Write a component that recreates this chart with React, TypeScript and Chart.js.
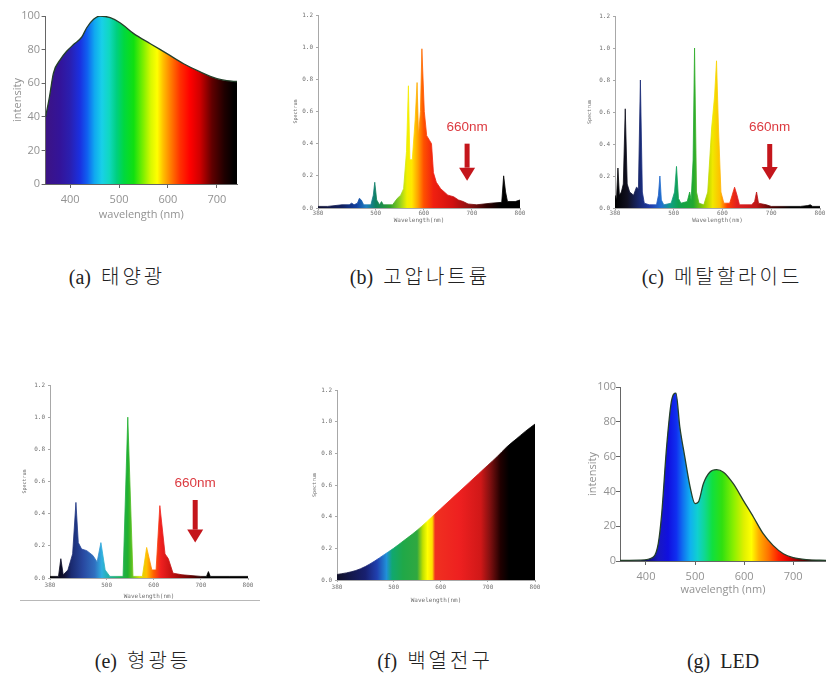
import React, { useEffect, useRef } from "react";
import { Chart, registerables } from "chart.js";
Chart.register(...registerables);

// ---------------- data ----------------
// (a) 태양광 (sunlight)
const SUN_WL = [350, 358, 366, 380, 393, 407, 424, 434, 448, 461, 482, 502, 530, 564, 598, 632, 666, 700, 720, 741];
const SUN_I = [40, 52, 66, 74, 79, 83, 87.5, 93, 98, 100, 99, 96, 89.5, 83.5, 77.6, 71.6, 66.7, 62.7, 61.5, 61];

// (b) 고압나트륨 (high-pressure sodium)
const HPS_WL = [380, 400, 430, 445, 450, 455, 462, 466, 470, 475, 490, 495, 498, 502, 508, 512, 516, 535, 545, 552, 558, 564, 568, 571, 576, 582, 586, 589, 593, 596, 601, 606, 612, 616, 620, 626, 635, 650, 662, 672, 682, 692, 710, 740, 762, 766, 770, 774, 790, 800];
const HPS_V = [0.01, 0.01, 0.02, 0.02, 0.03, 0.02, 0.03, 0.06, 0.05, 0.02, 0.02, 0.08, 0.16, 0.05, 0.02, 0.04, 0.02, 0.02, 0.06, 0.08, 0.12, 0.35, 0.76, 0.3, 0.3, 0.55, 0.78, 0.45, 0.6, 0.99, 0.6, 0.45, 0.42, 0.4, 0.22, 0.16, 0.12, 0.08, 0.07, 0.05, 0.04, 0.025, 0.02, 0.03, 0.035, 0.2, 0.1, 0.04, 0.04, 0.05];

// (c) 메탈할라이드 (metal halide)
const MH_WL = [380, 383, 386, 389, 393, 397, 401, 405, 410, 418, 424, 428, 432, 436, 440, 450, 465, 469, 472, 475, 480, 495, 502, 506, 510, 515, 528, 533, 536, 540, 543, 547, 552, 562, 570, 578, 584, 588, 592, 597, 603, 615, 620, 625, 630, 635, 660, 666, 670, 674, 690, 700, 760, 775, 780, 785, 800];
const MH_V = [0.08, 0.05, 0.25, 0.08, 0.1, 0.15, 0.62, 0.15, 0.1, 0.08, 0.13, 0.12, 0.8, 0.1, 0.03, 0.02, 0.02, 0.08, 0.2, 0.05, 0.02, 0.03, 0.1, 0.26, 0.06, 0.03, 0.04, 0.1, 0.05, 0.3, 1.0, 0.1, 0.03, 0.02, 0.1, 0.5, 0.7, 0.92, 0.5, 0.1, 0.03, 0.03, 0.08, 0.13, 0.08, 0.02, 0.02, 0.04, 0.1, 0.03, 0.02, 0.01, 0.01, 0.015, 0.02, 0.01, 0.01];

// (e) 형광등 (fluorescent)
const FL_WL = [380, 398, 403, 408, 418, 428, 435, 440, 447, 458, 471, 480, 488, 497, 507, 535, 545, 556, 576, 585, 596, 605, 613, 624, 631, 641, 660, 700, 712, 716, 720, 760, 800];
const FL_V = [0.01, 0.01, 0.12, 0.02, 0.05, 0.15, 0.47, 0.22, 0.18, 0.17, 0.14, 0.1, 0.22, 0.05, 0.01, 0.01, 1.0, 0.01, 0.01, 0.19, 0.05, 0.05, 0.45, 0.15, 0.12, 0.03, 0.02, 0.01, 0.01, 0.04, 0.01, 0.01, 0.01];

// (f) 백열전구 (incandescent)
const INC_WL = [380, 400, 420, 440, 460, 480, 500, 520, 540, 560, 580, 600, 620, 640, 660, 680, 700, 720, 740, 760, 780, 800];
const INC_V = [0.035, 0.045, 0.06, 0.085, 0.12, 0.16, 0.2, 0.245, 0.29, 0.34, 0.395, 0.45, 0.505, 0.56, 0.615, 0.67, 0.725, 0.78, 0.84, 0.89, 0.94, 0.985];

// (g) LED
const LED_WL = [347, 388, 415, 425, 432, 442, 452, 461, 469, 479, 490, 500, 507, 517, 530, 544, 558, 578, 598, 619, 639, 659, 680, 700, 727, 767];
const LED_I = [0.3, 0.5, 2.3, 10, 27, 65.5, 92, 96.5, 77, 60, 42.5, 33, 34, 44.4, 51, 52.5, 51, 44.4, 35, 25.3, 15.7, 9, 4.2, 2, 0.8, 0.3];

// tick values
const PAPER_XTICKS = [400, 500, 600, 700];
const LAMP_XTICKS = [380, 500, 600, 700, 800];

// captions
const CAPTION_TAGS = ["(a)", "(b)", "(c)", "(e)", "(f)", "(g)"];
const CAPTION_NAMES = ["태양광", "고압나트륨", "메탈할라이드", "형광등", "백열전구", "LED"];
const ARROW_LABEL = "660nm";

// ---------------- styles ----------------
type Stop = [number, string];
const SUN_STOPS: Stop[] = [[350, "#3c1384"], [380, "#33149a"], [400, "#2a1fb0"], [420, "#1a30e0"], [435, "#1060f0"], [450, "#10a8f0"], [465, "#18d0e8"], [480, "#10d8c0"], [495, "#00d080"], [510, "#00d840"], [530, "#10e010"], [550, "#80f000"], [565, "#d8f800"], [578, "#ffff00"], [590, "#ffc000"], [605, "#ff8000"], [625, "#ff3000"], [645, "#ff0000"], [665, "#d00000"], [690, "#600000"], [715, "#200000"], [735, "#000000"]];
const LED_STOPS: Stop[] = [[400, "#101060"], [425, "#1818c0"], [445, "#1010e0"], [462, "#1030f0"], [475, "#1070f0"], [490, "#10b0f0"], [505, "#10d0d0"], [520, "#10d890"], [535, "#10e040"], [555, "#30e010"], [580, "#90f000"], [600, "#e0f000"], [615, "#ffff00"], [630, "#ffb000"], [650, "#ff7000"], [670, "#ff2000"], [690, "#e00000"], [715, "#700000"], [745, "#100000"]];
const HPS_STOPS: Stop[] = [[380, "#101030"], [430, "#102060"], [460, "#1040a0"], [480, "#2080c0"], [500, "#108060"], [530, "#30a030"], [550, "#90d020"], [565, "#f0f000"], [575, "#ffe800"], [588, "#ffa000"], [600, "#ff5000"], [620, "#f02010"], [660, "#d01010"], [700, "#801010"], [730, "#300000"], [760, "#000000"]];
const MH_STOPS: Stop[] = [[380, "#000000"], [405, "#101020"], [430, "#182870"], [455, "#2040b0"], [475, "#2070d0"], [495, "#10a080"], [510, "#10a050"], [540, "#20a830"], [565, "#a0d000"], [580, "#f0e800"], [595, "#ffc000"], [610, "#ff4000"], [630, "#e02020"], [670, "#c01818"], [700, "#500000"], [740, "#000000"]];
const FL_STOPS: Stop[] = [[380, "#000000"], [410, "#101030"], [425, "#1a2a70"], [450, "#2848a0"], [475, "#3070c0"], [490, "#30b0e0"], [510, "#20b090"], [545, "#20b030"], [570, "#d0e000"], [585, "#ffc000"], [600, "#ff6000"], [615, "#f02020"], [640, "#c01010"], [680, "#600000"], [710, "#000000"]];
const INC_STOPS: Stop[] = [[380, "#101028"], [440, "#182070"], [465, "#2040b0"], [485, "#2090d8"], [497, "#10a870"], [520, "#20a848"], [550, "#30a840"], [562, "#c0e000"], [572, "#ffff00"], [582, "#ffe000"], [588, "#f03020"], [640, "#ee2020"], [685, "#d01818"], [705, "#801010"], [727, "#200000"], [745, "#000000"]];

type Arrow = { x: number; yText: number; yTop: number; yTip: number };
type Spec = {
  left: number; top: number; width: number; height: number;
  area: [number, number, number, number];
  wl: number[]; val: number[];
  xMin: number; xMax: number; xTicks: number[];
  yMax: number; yStep: number; yDec: number;
  stops: Stop[];
  kind: "paper" | "lamp";
  smooth: boolean;
  xTitle: string; yTitle: string;
  yTitleX: number; xTitleY: number; xLabelY: number; yLabelRight: number;
  arrow?: Arrow;
};

function gradient(chart: any, stops: Stop[]) {
  const { ctx, chartArea, scales } = chart;
  if (!chartArea || !scales.x) return "rgba(0,0,0,0)";
  const w = chartArea.right - chartArea.left;
  const g = ctx.createLinearGradient(chartArea.left, 0, chartArea.right, 0);
  for (const [wl, c] of stops) {
    const off = (scales.x.getPixelForValue(wl) - chartArea.left) / w;
    g.addColorStop(Math.min(1, Math.max(0, off)), c);
  }
  return g;
}

function arrowPlugin(a: Arrow) {
  return {
    id: "arrow660",
    afterDatasetsDraw(chart: any) {
      const { ctx, scales } = chart;
      const px = scales.x.getPixelForValue(a.x);
      const yt = scales.y.getPixelForValue(a.yTop);
      const yb = scales.y.getPixelForValue(a.yTip);
      const ty = scales.y.getPixelForValue(a.yText);
      ctx.save();
      ctx.fillStyle = "#dc3a40";
      ctx.font = "13.5px 'Liberation Sans', Arial, sans-serif";
      ctx.textAlign = "center";
      ctx.textBaseline = "middle";
      ctx.fillText(ARROW_LABEL, px, ty);
      const headH = 13, shaftW = 5, headW = 16;
      ctx.fillStyle = "#c4161c";
      ctx.fillRect(px - shaftW / 2, yt, shaftW, yb - headH - yt);
      ctx.beginPath();
      ctx.moveTo(px - headW / 2, yb - headH);
      ctx.lineTo(px + headW / 2, yb - headH);
      ctx.lineTo(px, yb);
      ctx.closePath();
      ctx.fill();
      ctx.restore();
    },
  };
}

function SpectrumChart({ s }: { s: Spec }) {
  const ref = useRef<HTMLCanvasElement>(null);
  useEffect(() => {
    if (!ref.current) return;
    const paper = s.kind === "paper";
    const [aL, aT, aR, aB] = s.area;
    const tickFont = paper
      ? { family: "'Open Sans', sans-serif", size: 11, lineHeight: 1.2 }
      : { family: "'DejaVu Sans Mono', monospace", size: 6, lineHeight: 1.2 };
    const xTitleFont = paper
      ? { family: "'Open Sans', sans-serif", size: 11, lineHeight: 1.2 }
      : { family: "'DejaVu Sans Mono', monospace", size: 6, lineHeight: 1.2 };
    const yTitleFont = paper
      ? { family: "'Open Sans', sans-serif", size: 11, lineHeight: 1.2 }
      : { family: "'DejaVu Sans Mono', monospace", size: 5, lineHeight: 1.2 };
    const tl = paper ? 4 : 2;
    const axisColor = paper ? "#666666" : "#a8a8a8";
    const textColor = paper ? "#929292" : "#707070";
    const xPad = Math.max(0, s.xLabelY - aB - tl - (tickFont.size * 1.2) / 2);
    const yPad = Math.max(0, aL - s.yLabelRight - tl);
    const plugins: any[] = [];
    if (s.arrow) plugins.push(arrowPlugin(s.arrow));
    const chart = new Chart(ref.current, {
      type: "line",
      data: {
        datasets: [
          {
            data: s.wl.map((x, i) => ({ x, y: s.val[i] })),
            fill: "origin",
            backgroundColor: (c: any) => gradient(c.chart, s.stops),
            borderColor: paper ? "#24402a" : (c: any) => gradient(c.chart, s.stops),
            borderWidth: paper ? 1.3 : 0.8,
            pointRadius: 0,
            tension: 0,
            cubicInterpolationMode: s.smooth ? "monotone" : "default",
          } as any,
        ],
      },
      options: {
        animation: false,
        responsive: false,
        maintainAspectRatio: false,
        events: [],
        layout: { padding: { left: 0, top: aT, right: s.width - aR, bottom: 0 } },
        plugins: { legend: { display: false }, tooltip: { enabled: false } },
        scales: {
          x: {
            type: "linear",
            min: s.xMin,
            max: s.xMax,
            afterBuildTicks: (sc: any) => {
              sc.ticks = s.xTicks.map((v) => ({ value: v }));
            },
            afterFit: (sc: any) => {
              sc.height = s.height - aB;
              sc.paddingLeft = 0;
              sc.paddingRight = 0;
            },
            grid: { display: true, drawOnChartArea: false, drawTicks: true, tickLength: tl, color: axisColor },
            border: { display: true, color: axisColor, width: 1 },
            ticks: { font: tickFont, color: textColor, padding: xPad, autoSkip: false, maxRotation: 0 },
            title: {
              display: true,
              text: s.xTitle,
              font: xTitleFont,
              color: textColor,
              padding: { top: 0, bottom: s.height - s.xTitleY - (xTitleFont.size * 1.2) / 2 },
            },
          },
          y: {
            type: "linear",
            min: 0,
            max: s.yMax,
            afterFit: (sc: any) => {
              sc.width = aL;
              sc.paddingTop = 0;
              sc.paddingBottom = 0;
            },
            grid: { display: true, drawOnChartArea: false, drawTicks: true, tickLength: tl, color: axisColor },
            border: { display: true, color: axisColor, width: 1 },
            ticks: {
              stepSize: s.yStep,
              font: tickFont,
              color: textColor,
              padding: yPad,
              callback: (v: any) => Number(v).toFixed(s.yDec),
            },
            title: {
              display: true,
              text: s.yTitle,
              font: yTitleFont,
              color: textColor,
              padding: { top: s.yTitleX - (yTitleFont.size * 1.2) / 2, bottom: 0 },
            },
          },
        },
      } as any,
      plugins,
    });
    return () => chart.destroy();
  }, [s]);
  return (
    <canvas
      ref={ref}
      width={s.width}
      height={s.height}
      style={{ position: "absolute", left: s.left, top: s.top, width: s.width, height: s.height }}
    />
  );
}

const PANELS: Spec[] = [
  {
    left: 0, top: 0, width: 250, height: 240, area: [45.6, 16, 237, 184],
    wl: SUN_WL, val: SUN_I, xMin: 350, xMax: 741, xTicks: PAPER_XTICKS,
    yMax: 100, yStep: 20, yDec: 0, stops: SUN_STOPS, kind: "paper", smooth: true,
    xTitle: "wavelength (nm)", yTitle: "intensity", yTitleX: 18, xTitleY: 215, xLabelY: 200, yLabelRight: 40,
  },
  {
    left: 290, top: 0, width: 240, height: 235, area: [28, 15, 230, 208],
    wl: HPS_WL, val: HPS_V, xMin: 380, xMax: 800, xTicks: LAMP_XTICKS,
    yMax: 1.2, yStep: 0.2, yDec: 1, stops: HPS_STOPS, kind: "lamp", smooth: false,
    xTitle: "Wavelength(nm)", yTitle: "Spectrum", yTitleX: 6, xTitleY: 220, xLabelY: 213, yLabelRight: 23,
    arrow: { x: 690, yText: 0.5, yTop: 0.4, yTip: 0.17 },
  },
  {
    left: 580, top: 0, width: 246, height: 235, area: [35, 16, 240, 208],
    wl: MH_WL, val: MH_V, xMin: 380, xMax: 800, xTicks: LAMP_XTICKS,
    yMax: 1.2, yStep: 0.2, yDec: 1, stops: MH_STOPS, kind: "lamp", smooth: false,
    xTitle: "Wavelength(nm)", yTitle: "Spectrum", yTitleX: 10, xTitleY: 220, xLabelY: 213, yLabelRight: 30,
    arrow: { x: 697, yText: 0.505, yTop: 0.4, yTip: 0.175 },
  },
  {
    left: 0, top: 370, width: 270, height: 240, area: [50, 15, 248, 208],
    wl: FL_WL, val: FL_V, xMin: 380, xMax: 800, xTicks: LAMP_XTICKS,
    yMax: 1.2, yStep: 0.2, yDec: 1, stops: FL_STOPS, kind: "lamp", smooth: false,
    xTitle: "Wavelength(nm)", yTitle: "Spectrum", yTitleX: 25, xTitleY: 226, xLabelY: 215, yLabelRight: 45,
    arrow: { x: 688, yText: 0.59, yTop: 0.485, yTip: 0.22 },
  },
  {
    left: 290, top: 370, width: 260, height: 240, area: [47, 20, 245, 210],
    wl: INC_WL, val: INC_V, xMin: 380, xMax: 800, xTicks: LAMP_XTICKS,
    yMax: 1.2, yStep: 0.2, yDec: 1, stops: INC_STOPS, kind: "lamp", smooth: true,
    xTitle: "Wavelength(nm)", yTitle: "Spectrum", yTitleX: 25, xTitleY: 230, xLabelY: 217, yLabelRight: 42,
  },
  {
    left: 560, top: 370, width: 266, height: 240, area: [60, 17, 266, 191],
    wl: LED_WL, val: LED_I, xMin: 347, xMax: 767, xTicks: PAPER_XTICKS,
    yMax: 100, yStep: 20, yDec: 0, stops: LED_STOPS, kind: "paper", smooth: true,
    xTitle: "wavelength (nm)", yTitle: "intensity", yTitleX: 33, xTitleY: 220, xLabelY: 207, yLabelRight: 57,
  },
];

const CAPTION_POS: [number, number][] = [
  [117, 277], [420, 277], [722, 277], [143, 661], [435, 661], [723, 661],
];

const HANGUL = /[\uAC00-\uD7A3]/;

export default function App() {
  return (
    <div style={{ position: "absolute", left: 0, top: 0, width: 826, height: 674, background: "#ffffff", overflow: "hidden" }}>
      {PANELS.map((p, i) => (
        <SpectrumChart key={i} s={p} />
      ))}
      <div style={{ position: "absolute", left: 20, top: 600, width: 240, height: 1, background: "#b8b8b8" }} />
      {CAPTION_TAGS.map((tag, i) => (
        <div
          key={tag}
          style={{
            position: "absolute",
            left: CAPTION_POS[i][0] - 130,
            top: CAPTION_POS[i][1] - 14,
            width: 260,
            height: 28,
            lineHeight: "28px",
            textAlign: "center",
            fontSize: 20,
            fontWeight: 300,
            color: "#222",
            whiteSpace: "pre",
            fontFamily: "'Liberation Serif', 'Noto Sans CJK KR', serif",
          }}
        >
          <span>{tag + "  "}</span>
          <span style={{ letterSpacing: HANGUL.test(CAPTION_NAMES[i]) ? "3px" : "0px" }}>{CAPTION_NAMES[i]}</span>
        </div>
      ))}
    </div>
  );
}
